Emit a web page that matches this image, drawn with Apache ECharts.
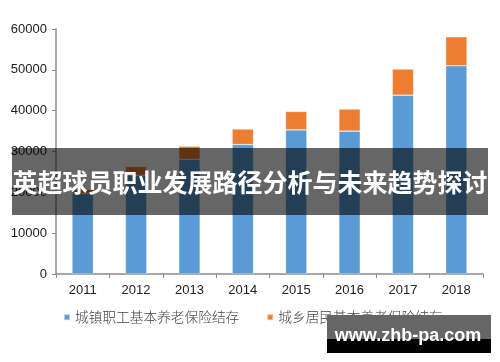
<!DOCTYPE html>
<html><head><meta charset="utf-8">
<script src="https://cdn.jsdelivr.net/npm/echarts@6/dist/echarts.min.js"></script>
<style>html,body{margin:0;padding:0;background:#fff}#c{width:500px;height:362px}</style>
</head><body><div id="c"></div>
<script>
const years = ['2011','2012','2013','2014','2015','2016','2017','2018'];
const urbanWorkers = [19700, 24200, 28100, 31700, 35300, 35000, 43800, 51000];
const ruralResidents = [1000, 2100, 3200, 3800, 4500, 5400, 6400, 7100];
const seriesNames = ['城镇职工基本养老保险结存', '城乡居民基本养老保险结存'];
const yTicks = [0, 10000, 20000, 30000, 40000, 50000, 60000];
const titleText = '英超球员职业发展路径分析与未来趋势探讨';
const watermark = 'www.zhb-pa.com';

const chart = echarts.init(document.getElementById('c'), null, {renderer:'canvas'});
const legendFont = {fontFamily:'"Noto Sans CJK SC"', fontSize:13.7, color:'#444', fontWeight:300};
chart.setOption({
  animation:false,
  grid:{left:56, right:17, top:29, bottom:88},
  legend:{
    data:seriesNames, bottom:33, left:58, itemWidth:6, itemHeight:6, itemGap:27,
    icon:'rect', textStyle:legendFont
  },
  xAxis:{
    type:'category', data:years,
    axisLine:{lineStyle:{color:'#8c8c8c', width:1.5}},
    axisTick:{show:true, alignWithLabel:false, length:4, lineStyle:{color:'#8c8c8c'}},
    axisLabel:{fontFamily:'Liberation Sans, Arial', fontSize:13, color:'#222', margin:10}
  },
  yAxis:{
    type:'value', min:yTicks[0], max:yTicks[yTicks.length-1], interval:10000,
    axisLine:{show:true, lineStyle:{color:'#8c8c8c', width:1.5}},
    axisTick:{show:true, inside:false, length:4, lineStyle:{color:'#8c8c8c'}},
    splitLine:{show:false},
    axisLabel:{fontFamily:'Liberation Sans, Arial', fontSize:13, color:'#222', margin:9,
      formatter:function(v){return String(v);}}
  },
  series:[
    {name:seriesNames[0], type:'bar', stack:'a', data:urbanWorkers, barWidth:'40%',
     itemStyle:{color:'#5b9bd5', borderColor:'rgba(255,255,255,0.5)', borderWidth:0.6}},
    {name:seriesNames[1], type:'bar', stack:'a', data:ruralResidents, barWidth:'40%',
     itemStyle:{color:'#ed7d31', borderColor:'rgba(255,255,255,0.5)', borderWidth:0.6}}
  ],
  graphic:[
    {type:'rect', shape:{x:12, y:148, width:476, height:67}, style:{fill:'rgba(0,0,0,0.6)'}, z:100},
    {type:'text', x:250, y:182, style:{text:titleText, fill:'#fff', font:'bold 25px "Noto Sans CJK SC"', textAlign:'center', textVerticalAlign:'middle'}, z:101},
    {type:'rect', shape:{x:327, y:315, width:164, height:24}, style:{fill:'#666'}, z:100},
    {type:'rect', shape:{x:327, y:339, width:164, height:14}, style:{fill:'#000'}, z:100},
    {type:'text', x:408, y:336, style:{text:watermark, fill:'#fff', font:'bold 18px "Liberation Sans", Arial, sans-serif', textAlign:'center', textVerticalAlign:'middle'}, z:101}
  ]
});
</script></body></html>
